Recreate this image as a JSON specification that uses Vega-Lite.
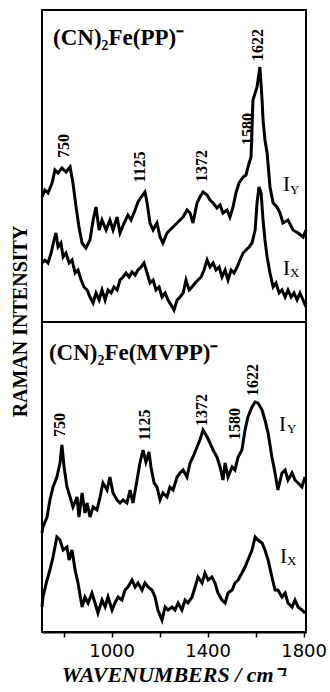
{
"$schema": "https://vega.github.io/schema/vega-lite/v6.json",
"width": 264,
"height": 622,
"autosize": {"type": "none"},
"padding": {"left": 42, "top": 10, "right": 24, "bottom": 60},
"background": "white",
"config": {
  "view": {"stroke": "black", "strokeWidth": 2},
  "axis": {"grid": false}
},
"datasets": {
  "spectra": [
{"t":"PP_Y","w":710,"i":435},{"t":"PP_Y","w":722,"i":442},{"t":"PP_Y","w":735,"i":439},{"t":"PP_Y","w":752,"i":449},{"t":"PP_Y","w":764,"i":462},{"t":"PP_Y","w":777,"i":459},{"t":"PP_Y","w":793,"i":464},{"t":"PP_Y","w":810,"i":460},{"t":"PP_Y","w":827,"i":465},{"t":"PP_Y","w":839,"i":449},{"t":"PP_Y","w":852,"i":425},{"t":"PP_Y","w":864,"i":405},{"t":"PP_Y","w":877,"i":389},{"t":"PP_Y","w":893,"i":384},{"t":"PP_Y","w":910,"i":392},{"t":"PP_Y","w":923,"i":412},{"t":"PP_Y","w":935,"i":425},{"t":"PP_Y","w":948,"i":402},{"t":"PP_Y","w":960,"i":412},{"t":"PP_Y","w":977,"i":402},{"t":"PP_Y","w":993,"i":412},{"t":"PP_Y","w":1006,"i":402},{"t":"PP_Y","w":1023,"i":415},{"t":"PP_Y","w":1035,"i":399},{"t":"PP_Y","w":1052,"i":409},{"t":"PP_Y","w":1068,"i":417},{"t":"PP_Y","w":1081,"i":412},{"t":"PP_Y","w":1098,"i":422},{"t":"PP_Y","w":1110,"i":430},{"t":"PP_Y","w":1123,"i":435},{"t":"PP_Y","w":1139,"i":440},{"t":"PP_Y","w":1148,"i":429},{"t":"PP_Y","w":1160,"i":409},{"t":"PP_Y","w":1173,"i":402},{"t":"PP_Y","w":1189,"i":409},{"t":"PP_Y","w":1202,"i":395},{"t":"PP_Y","w":1214,"i":389},{"t":"PP_Y","w":1231,"i":399},{"t":"PP_Y","w":1243,"i":402},{"t":"PP_Y","w":1256,"i":405},{"t":"PP_Y","w":1273,"i":409},{"t":"PP_Y","w":1285,"i":412},{"t":"PP_Y","w":1298,"i":415},{"t":"PP_Y","w":1314,"i":422},{"t":"PP_Y","w":1327,"i":419},{"t":"PP_Y","w":1339,"i":409},{"t":"PP_Y","w":1356,"i":429},{"t":"PP_Y","w":1368,"i":435},{"t":"PP_Y","w":1381,"i":440},{"t":"PP_Y","w":1398,"i":437},{"t":"PP_Y","w":1410,"i":432},{"t":"PP_Y","w":1423,"i":429},{"t":"PP_Y","w":1439,"i":424},{"t":"PP_Y","w":1452,"i":427},{"t":"PP_Y","w":1464,"i":419},{"t":"PP_Y","w":1481,"i":422},{"t":"PP_Y","w":1493,"i":415},{"t":"PP_Y","w":1506,"i":425},{"t":"PP_Y","w":1518,"i":439},{"t":"PP_Y","w":1531,"i":449},{"t":"PP_Y","w":1548,"i":455},{"t":"PP_Y","w":1560,"i":457},{"t":"PP_Y","w":1573,"i":469},{"t":"PP_Y","w":1581,"i":475},{"t":"PP_Y","w":1589,"i":532},{"t":"PP_Y","w":1606,"i":545},{"t":"PP_Y","w":1618,"i":565},{"t":"PP_Y","w":1627,"i":532},{"t":"PP_Y","w":1631,"i":512},{"t":"PP_Y","w":1639,"i":492},{"t":"PP_Y","w":1648,"i":479},{"t":"PP_Y","w":1660,"i":445},{"t":"PP_Y","w":1673,"i":429},{"t":"PP_Y","w":1689,"i":425},{"t":"PP_Y","w":1702,"i":419},{"t":"PP_Y","w":1714,"i":409},{"t":"PP_Y","w":1735,"i":412},{"t":"PP_Y","w":1756,"i":402},{"t":"PP_Y","w":1777,"i":399},{"t":"PP_Y","w":1798,"i":395},{"t":"PP_Y","w":1810,"i":402},
{"t":"PP_X","w":710,"i":369},{"t":"PP_X","w":722,"i":372},{"t":"PP_X","w":735,"i":369},{"t":"PP_X","w":748,"i":379},{"t":"PP_X","w":760,"i":392},{"t":"PP_X","w":768,"i":399},{"t":"PP_X","w":777,"i":385},{"t":"PP_X","w":789,"i":389},{"t":"PP_X","w":798,"i":375},{"t":"PP_X","w":810,"i":379},{"t":"PP_X","w":823,"i":369},{"t":"PP_X","w":835,"i":372},{"t":"PP_X","w":848,"i":359},{"t":"PP_X","w":860,"i":362},{"t":"PP_X","w":873,"i":352},{"t":"PP_X","w":885,"i":345},{"t":"PP_X","w":898,"i":342},{"t":"PP_X","w":910,"i":335},{"t":"PP_X","w":923,"i":329},{"t":"PP_X","w":935,"i":339},{"t":"PP_X","w":948,"i":332},{"t":"PP_X","w":960,"i":342},{"t":"PP_X","w":973,"i":332},{"t":"PP_X","w":985,"i":342},{"t":"PP_X","w":998,"i":339},{"t":"PP_X","w":1010,"i":345},{"t":"PP_X","w":1023,"i":342},{"t":"PP_X","w":1035,"i":352},{"t":"PP_X","w":1048,"i":355},{"t":"PP_X","w":1060,"i":359},{"t":"PP_X","w":1073,"i":355},{"t":"PP_X","w":1085,"i":360},{"t":"PP_X","w":1098,"i":357},{"t":"PP_X","w":1110,"i":362},{"t":"PP_X","w":1123,"i":365},{"t":"PP_X","w":1135,"i":369},{"t":"PP_X","w":1148,"i":359},{"t":"PP_X","w":1160,"i":349},{"t":"PP_X","w":1173,"i":352},{"t":"PP_X","w":1185,"i":342},{"t":"PP_X","w":1198,"i":345},{"t":"PP_X","w":1210,"i":335},{"t":"PP_X","w":1223,"i":339},{"t":"PP_X","w":1235,"i":332},{"t":"PP_X","w":1248,"i":327},{"t":"PP_X","w":1260,"i":322},{"t":"PP_X","w":1273,"i":332},{"t":"PP_X","w":1285,"i":335},{"t":"PP_X","w":1298,"i":339},{"t":"PP_X","w":1310,"i":352},{"t":"PP_X","w":1323,"i":342},{"t":"PP_X","w":1335,"i":345},{"t":"PP_X","w":1348,"i":349},{"t":"PP_X","w":1360,"i":352},{"t":"PP_X","w":1373,"i":355},{"t":"PP_X","w":1385,"i":362},{"t":"PP_X","w":1398,"i":372},{"t":"PP_X","w":1410,"i":365},{"t":"PP_X","w":1423,"i":369},{"t":"PP_X","w":1435,"i":362},{"t":"PP_X","w":1448,"i":365},{"t":"PP_X","w":1460,"i":355},{"t":"PP_X","w":1473,"i":362},{"t":"PP_X","w":1485,"i":352},{"t":"PP_X","w":1498,"i":362},{"t":"PP_X","w":1510,"i":359},{"t":"PP_X","w":1523,"i":365},{"t":"PP_X","w":1535,"i":372},{"t":"PP_X","w":1548,"i":379},{"t":"PP_X","w":1560,"i":382},{"t":"PP_X","w":1573,"i":385},{"t":"PP_X","w":1585,"i":389},{"t":"PP_X","w":1598,"i":402},{"t":"PP_X","w":1606,"i":429},{"t":"PP_X","w":1614,"i":445},{"t":"PP_X","w":1623,"i":439},{"t":"PP_X","w":1631,"i":412},{"t":"PP_X","w":1639,"i":392},{"t":"PP_X","w":1648,"i":375},{"t":"PP_X","w":1660,"i":359},{"t":"PP_X","w":1673,"i":345},{"t":"PP_X","w":1685,"i":349},{"t":"PP_X","w":1698,"i":339},{"t":"PP_X","w":1710,"i":342},{"t":"PP_X","w":1723,"i":335},{"t":"PP_X","w":1735,"i":342},{"t":"PP_X","w":1748,"i":335},{"t":"PP_X","w":1760,"i":339},{"t":"PP_X","w":1773,"i":332},{"t":"PP_X","w":1785,"i":339},{"t":"PP_X","w":1798,"i":332},{"t":"PP_X","w":1810,"i":325},
{"t":"MV_Y","w":710,"i":99},{"t":"MV_Y","w":714,"i":105},{"t":"MV_Y","w":731,"i":115},{"t":"MV_Y","w":743,"i":132},{"t":"MV_Y","w":756,"i":145},{"t":"MV_Y","w":772,"i":155},{"t":"MV_Y","w":785,"i":169},{"t":"MV_Y","w":793,"i":187},{"t":"MV_Y","w":802,"i":165},{"t":"MV_Y","w":814,"i":145},{"t":"MV_Y","w":827,"i":135},{"t":"MV_Y","w":839,"i":125},{"t":"MV_Y","w":856,"i":135},{"t":"MV_Y","w":864,"i":115},{"t":"MV_Y","w":877,"i":139},{"t":"MV_Y","w":889,"i":119},{"t":"MV_Y","w":898,"i":129},{"t":"MV_Y","w":910,"i":115},{"t":"MV_Y","w":923,"i":125},{"t":"MV_Y","w":939,"i":122},{"t":"MV_Y","w":952,"i":135},{"t":"MV_Y","w":964,"i":149},{"t":"MV_Y","w":981,"i":142},{"t":"MV_Y","w":993,"i":155},{"t":"MV_Y","w":1006,"i":139},{"t":"MV_Y","w":1023,"i":132},{"t":"MV_Y","w":1035,"i":129},{"t":"MV_Y","w":1048,"i":132},{"t":"MV_Y","w":1064,"i":129},{"t":"MV_Y","w":1077,"i":142},{"t":"MV_Y","w":1089,"i":129},{"t":"MV_Y","w":1106,"i":152},{"t":"MV_Y","w":1118,"i":169},{"t":"MV_Y","w":1131,"i":182},{"t":"MV_Y","w":1143,"i":170},{"t":"MV_Y","w":1156,"i":180},{"t":"MV_Y","w":1164,"i":165},{"t":"MV_Y","w":1177,"i":149},{"t":"MV_Y","w":1189,"i":145},{"t":"MV_Y","w":1202,"i":132},{"t":"MV_Y","w":1214,"i":139},{"t":"MV_Y","w":1231,"i":135},{"t":"MV_Y","w":1243,"i":145},{"t":"MV_Y","w":1256,"i":142},{"t":"MV_Y","w":1273,"i":155},{"t":"MV_Y","w":1285,"i":159},{"t":"MV_Y","w":1298,"i":162},{"t":"MV_Y","w":1314,"i":155},{"t":"MV_Y","w":1327,"i":169},{"t":"MV_Y","w":1339,"i":175},{"t":"MV_Y","w":1356,"i":185},{"t":"MV_Y","w":1368,"i":192},{"t":"MV_Y","w":1381,"i":202},{"t":"MV_Y","w":1398,"i":195},{"t":"MV_Y","w":1410,"i":189},{"t":"MV_Y","w":1423,"i":182},{"t":"MV_Y","w":1439,"i":175},{"t":"MV_Y","w":1452,"i":165},{"t":"MV_Y","w":1464,"i":152},{"t":"MV_Y","w":1473,"i":169},{"t":"MV_Y","w":1485,"i":155},{"t":"MV_Y","w":1502,"i":165},{"t":"MV_Y","w":1514,"i":162},{"t":"MV_Y","w":1527,"i":175},{"t":"MV_Y","w":1543,"i":182},{"t":"MV_Y","w":1556,"i":202},{"t":"MV_Y","w":1568,"i":215},{"t":"MV_Y","w":1585,"i":225},{"t":"MV_Y","w":1598,"i":230},{"t":"MV_Y","w":1610,"i":229},{"t":"MV_Y","w":1627,"i":222},{"t":"MV_Y","w":1639,"i":212},{"t":"MV_Y","w":1652,"i":199},{"t":"MV_Y","w":1668,"i":175},{"t":"MV_Y","w":1681,"i":159},{"t":"MV_Y","w":1693,"i":142},{"t":"MV_Y","w":1710,"i":159},{"t":"MV_Y","w":1723,"i":162},{"t":"MV_Y","w":1735,"i":152},{"t":"MV_Y","w":1752,"i":159},{"t":"MV_Y","w":1764,"i":152},{"t":"MV_Y","w":1777,"i":149},{"t":"MV_Y","w":1793,"i":145},{"t":"MV_Y","w":1806,"i":155},
{"t":"MV_X","w":710,"i":25},{"t":"MV_X","w":714,"i":35},{"t":"MV_X","w":731,"i":52},{"t":"MV_X","w":743,"i":62},{"t":"MV_X","w":756,"i":75},{"t":"MV_X","w":772,"i":95},{"t":"MV_X","w":785,"i":92},{"t":"MV_X","w":798,"i":82},{"t":"MV_X","w":814,"i":85},{"t":"MV_X","w":823,"i":72},{"t":"MV_X","w":835,"i":82},{"t":"MV_X","w":848,"i":62},{"t":"MV_X","w":860,"i":49},{"t":"MV_X","w":877,"i":25},{"t":"MV_X","w":889,"i":35},{"t":"MV_X","w":902,"i":29},{"t":"MV_X","w":918,"i":39},{"t":"MV_X","w":931,"i":29},{"t":"MV_X","w":943,"i":19},{"t":"MV_X","w":960,"i":32},{"t":"MV_X","w":973,"i":25},{"t":"MV_X","w":985,"i":35},{"t":"MV_X","w":1002,"i":22},{"t":"MV_X","w":1014,"i":29},{"t":"MV_X","w":1027,"i":35},{"t":"MV_X","w":1043,"i":32},{"t":"MV_X","w":1056,"i":42},{"t":"MV_X","w":1068,"i":45},{"t":"MV_X","w":1085,"i":52},{"t":"MV_X","w":1098,"i":45},{"t":"MV_X","w":1110,"i":49},{"t":"MV_X","w":1127,"i":42},{"t":"MV_X","w":1139,"i":49},{"t":"MV_X","w":1152,"i":45},{"t":"MV_X","w":1168,"i":42},{"t":"MV_X","w":1181,"i":35},{"t":"MV_X","w":1193,"i":22},{"t":"MV_X","w":1210,"i":12},{"t":"MV_X","w":1223,"i":25},{"t":"MV_X","w":1235,"i":22},{"t":"MV_X","w":1252,"i":25},{"t":"MV_X","w":1264,"i":22},{"t":"MV_X","w":1277,"i":29},{"t":"MV_X","w":1293,"i":22},{"t":"MV_X","w":1306,"i":32},{"t":"MV_X","w":1318,"i":29},{"t":"MV_X","w":1335,"i":35},{"t":"MV_X","w":1348,"i":45},{"t":"MV_X","w":1360,"i":55},{"t":"MV_X","w":1377,"i":49},{"t":"MV_X","w":1389,"i":59},{"t":"MV_X","w":1402,"i":52},{"t":"MV_X","w":1418,"i":55},{"t":"MV_X","w":1431,"i":49},{"t":"MV_X","w":1443,"i":39},{"t":"MV_X","w":1460,"i":32},{"t":"MV_X","w":1473,"i":29},{"t":"MV_X","w":1485,"i":39},{"t":"MV_X","w":1502,"i":42},{"t":"MV_X","w":1514,"i":49},{"t":"MV_X","w":1527,"i":52},{"t":"MV_X","w":1543,"i":59},{"t":"MV_X","w":1556,"i":65},{"t":"MV_X","w":1568,"i":72},{"t":"MV_X","w":1585,"i":82},{"t":"MV_X","w":1598,"i":95},{"t":"MV_X","w":1610,"i":92},{"t":"MV_X","w":1627,"i":89},{"t":"MV_X","w":1639,"i":82},{"t":"MV_X","w":1652,"i":72},{"t":"MV_X","w":1668,"i":55},{"t":"MV_X","w":1681,"i":42},{"t":"MV_X","w":1693,"i":42},{"t":"MV_X","w":1710,"i":35},{"t":"MV_X","w":1723,"i":39},{"t":"MV_X","w":1735,"i":29},{"t":"MV_X","w":1752,"i":25},{"t":"MV_X","w":1764,"i":32},{"t":"MV_X","w":1777,"i":25},{"t":"MV_X","w":1793,"i":22},{"t":"MV_X","w":1806,"i":19}
  ],
  "peaks": [
{"w":802,"i":486,"label":"750"},{"w":1118,"i":465,"label":"1125"},{"w":1377,"i":466,"label":"1372"},{"w":1568,"i":503,"label":"1580"},{"w":1610,"i":587,"label":"1622"},
{"w":785,"i":207,"label":"750"},{"w":1139,"i":207,"label":"1125"},{"w":1377,"i":222,"label":"1372"},{"w":1514,"i":208,"label":"1580"},{"w":1589,"i":252,"label":"1622"}
  ],
  "titles": [
{"w":756,"i":587,"label":"(CN)₂Fe(PP)⁻"},
{"w":739,"i":272,"label":"(CN)₂Fe(MVPP)⁻"}
  ],
  "pol": [
{"w":1714,"i":441,"label":"I","kind":"main"},{"w":1743,"i":438,"label":"Y","kind":"sub"},
{"w":1714,"i":357,"label":"I","kind":"main"},{"w":1743,"i":355,"label":"X","kind":"sub"},
{"w":1698,"i":201,"label":"I","kind":"main"},{"w":1731,"i":199,"label":"Y","kind":"sub"},
{"w":1702,"i":69,"label":"I","kind":"main"},{"w":1731,"i":67,"label":"X","kind":"sub"}
  ]
},
"layer": [
  {
    "data": {"name": "spectra"},
    "mark": {"type": "line", "color": "black", "strokeWidth": 3, "strokeJoin": "miter"},
    "encoding": {
      "x": {"field": "w", "type": "quantitative",
        "scale": {"domain": [710, 1810], "nice": false, "zero": false},
        "axis": {"title": "WAVENUMBERS / cm⁻¹", "values": [800, 1000, 1200, 1400, 1600, 1800],
          "labelExpr": "datum.value % 400 == 200 ? datum.value + '' : ''",
          "labelFlush": false, "labelOverlap": false,
          "domainColor": "black", "domainWidth": 2,
          "tickColor": "black", "tickSize": 5, "tickWidth": 1.5,
          "labelFont": "DejaVu Sans", "labelFontSize": 18, "labelColor": "black", "labelPadding": 5,
          "titleFont": "Liberation Serif", "titleFontWeight": "bold", "titleFontStyle": "italic",
          "titleFontSize": 22, "titleColor": "black", "titlePadding": 4}},
      "y": {"field": "i", "type": "quantitative",
        "scale": {"domain": [0, 622], "nice": false, "zero": false},
        "axis": {"title": "RAMAN INTENSITY", "labels": false, "ticks": false, "domain": false,
          "titleFont": "Liberation Serif", "titleFontWeight": "bold", "titleFontSize": 20,
          "titleColor": "black", "titlePadding": 12}},
      "detail": {"field": "t", "type": "nominal"}
    }
  },
  {
    "data": {"values": [{"divider": 310}]},
    "mark": {"type": "rule", "color": "black", "strokeWidth": 2},
    "encoding": {"y": {"field": "divider", "type": "quantitative"}}
  },
  {
    "data": {"name": "peaks"},
    "mark": {"type": "text", "angle": 270, "align": "center", "baseline": "middle",
      "font": "Liberation Serif", "fontWeight": "bold", "fontSize": 16, "color": "black"},
    "encoding": {
      "x": {"field": "w", "type": "quantitative"},
      "y": {"field": "i", "type": "quantitative"},
      "text": {"field": "label"}
    }
  },
  {
    "data": {"name": "titles"},
    "mark": {"type": "text", "align": "left", "baseline": "alphabetic",
      "font": "Liberation Serif", "fontWeight": "bold", "fontSize": 23, "color": "black"},
    "encoding": {
      "x": {"field": "w", "type": "quantitative"},
      "y": {"field": "i", "type": "quantitative"},
      "text": {"field": "label"}
    }
  },
  {
    "data": {"name": "pol"},
    "transform": [{"filter": "datum.kind == 'main'"}],
    "mark": {"type": "text", "align": "left", "baseline": "alphabetic",
      "font": "Liberation Serif", "fontSize": 21, "color": "black"},
    "encoding": {
      "x": {"field": "w", "type": "quantitative"},
      "y": {"field": "i", "type": "quantitative"},
      "text": {"field": "label"}
    }
  },
  {
    "data": {"name": "pol"},
    "transform": [{"filter": "datum.kind == 'sub'"}],
    "mark": {"type": "text", "align": "left", "baseline": "alphabetic",
      "font": "Liberation Serif", "fontSize": 13, "color": "black"},
    "encoding": {
      "x": {"field": "w", "type": "quantitative"},
      "y": {"field": "i", "type": "quantitative"},
      "text": {"field": "label"}
    }
  }
]
}
